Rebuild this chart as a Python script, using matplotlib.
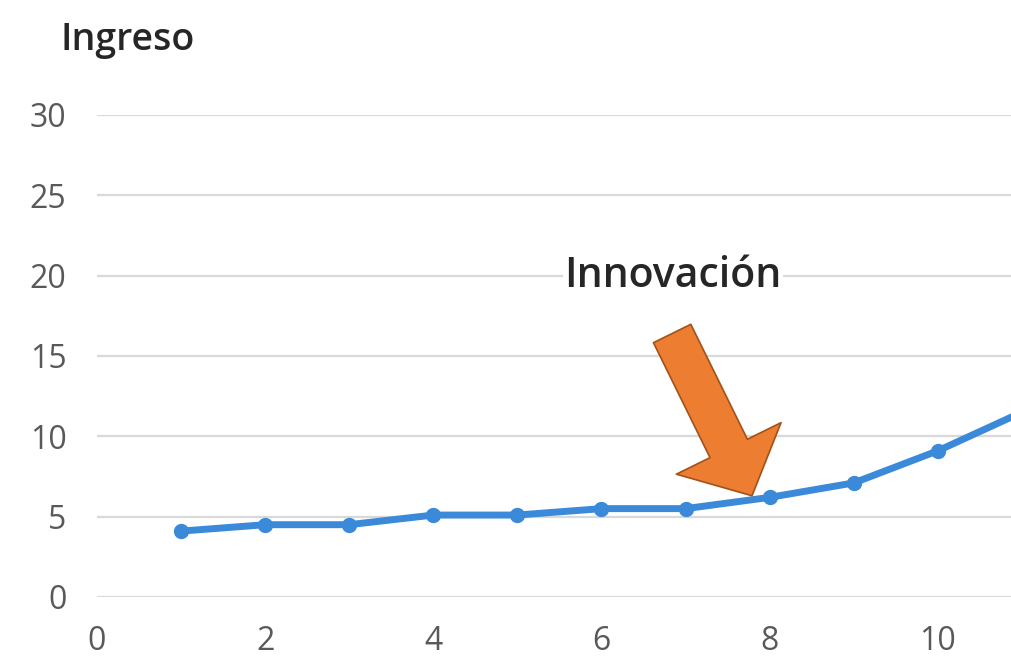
import matplotlib
matplotlib.use("Agg")
import matplotlib.pyplot as plt

periodos = [1, 2, 3, 4, 5, 6, 7, 8, 9, 10, 11]
ingreso = [4.1, 4.5, 4.5, 5.1, 5.1, 5.5, 5.5, 6.2, 7.1, 9.1, 11.5]
x_ticks = [0, 2, 4, 6, 8, 10]
y_ticks = [0, 5, 10, 15, 20, 25, 30]

plt.rcParams['font.family'] = ['Open Sans', 'DejaVu Sans']

fig = plt.figure(figsize=(10.11, 6.62), dpi=100)
ax = fig.add_axes([0.0959, 0.0982, 0.9041, 0.7281])
ax.set_xlim(0, 10.87)
ax.set_ylim(0, 30)
ax.set_xticks(x_ticks)
ax.set_yticks(y_ticks)
for s in ax.spines.values():
    s.set_visible(False)
ax.grid(axis='y', color='#d9d9d9', linewidth=1.6)
ax.set_axisbelow(True)
ax.tick_params(axis='both', length=0, labelsize=23, labelcolor='#595959')
ax.tick_params(axis='x', pad=20)
ax.tick_params(axis='y', pad=22)

ax.plot(periodos, ingreso, color='#3B8AD9', linewidth=5, marker='o',
        markersize=10, clip_on=True, zorder=3)

ax.annotate('', xy=(7.79, 6.3), xytext=(6.84, 16.4),
            arrowprops=dict(arrowstyle='simple,head_length=3.8,head_width=8.4,tail_width=3.0',
                            fc='#ED7D31', ec='#A0521A', lw=1.2, shrinkA=0, shrinkB=0),
            zorder=4)

ax.text(5.56, 20.0, 'Innovación', fontsize=29.5, fontweight='semibold', color='#262626',
        va='center', ha='left',
        bbox=dict(facecolor='white', edgecolor='none', pad=1), zorder=5)

fig.text(0.06, 0.94, 'Ingreso', fontsize=27, fontweight='semibold', color='#262626',
         va='center', ha='left')

fig.savefig('out.png', dpi=100)
